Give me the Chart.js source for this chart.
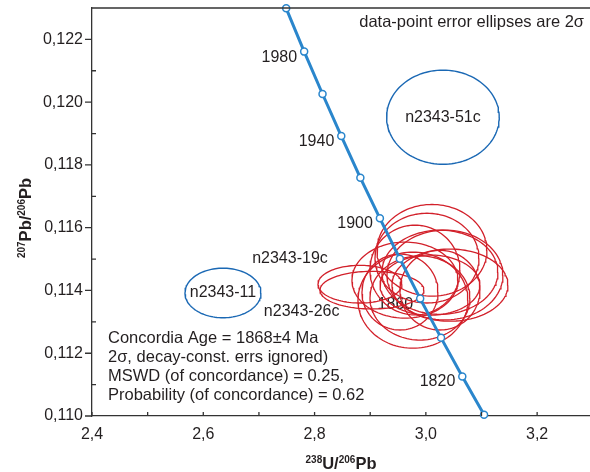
<!DOCTYPE html>
<html>
<head>
<meta charset="utf-8">
<script src="https://cdn.jsdelivr.net/npm/chart.js@4.4.0/dist/chart.umd.min.js"></script>
<style>
  html, body { margin: 0; padding: 0; background: #fff; }
  #wrap { width: 590px; height: 472px; }
</style>
</head>
<body>
<div id="wrap"><canvas id="chart"></canvas></div>
<script>
// Concordia curve: age marks (Ma) with 238U/206Pb and 207Pb/206Pb
const concordiaAges = [2000, 1980, 1960, 1940, 1920, 1900, 1880, 1860, 1840, 1820, 1800];
const concordiaX = [2.7490, 2.7813, 2.8143, 2.8480, 2.8823, 2.9174, 2.9533, 2.9898, 3.0273, 3.0655, 3.1046];
const concordiaY = [0.12299, 0.12161, 0.12026, 0.11892, 0.11759, 0.11630, 0.11501, 0.11374, 0.11249, 0.11126, 0.11004];
const labelledAges = [1980, 1940, 1900, 1860, 1820];

// Spots left out of the age (centre, 2 sigma semi-axes)
const outNames = ['n2343-51c', 'n2343-11'];
const outX = [3.0307, 2.6354];
const outY = [0.11952, 0.11392];
const outErrX = [0.1012, 0.0683];
const outErrY = [0.00150, 0.00079];

// Spots used for the concordia age
const inX = [2.8816, 2.9031, 3.0110, 3.0020, 3.0253, 3.0433, 2.9624, 2.9768, 2.9894, 3.0343, 2.9535, 3.0253, 3.0074, 2.9804];
const inY = [0.11420, 0.11401, 0.11528, 0.11503, 0.11458, 0.11417, 0.11433, 0.11369, 0.11376, 0.11449, 0.11395, 0.11401, 0.11417, 0.11465];
const inErrX = [0.0755, 0.0934, 0.0988, 0.0934, 0.1042, 0.1042, 0.0952, 0.0988, 0.0898, 0.1042, 0.0683, 0.0719, 0.0898, 0.0809];
const inErrY = [0.00060, 0.00060, 0.00146, 0.00143, 0.00134, 0.00115, 0.00121, 0.00153, 0.00134, 0.00143, 0.00121, 0.00127, 0.00096, 0.00143];

// Axis ticks
const xTicks = [2.4, 2.6, 2.8, 3.0, 3.2];
const xMinor = [2.5, 2.7, 2.9, 3.1, 3.3];
const yTicks = [0.110, 0.112, 0.114, 0.116, 0.118, 0.120, 0.122];
const yMinor = [0.111, 0.113, 0.115, 0.117, 0.119, 0.121, 0.123];

const statLines = [
    'Concordia Age = 1868\u00b14 Ma',
    '2\u03c3, decay-const. errs ignored)',
    'MSWD (of concordance) = 0.25,',
    'Probability (of concordance) = 0.62'
];

const TEXT = '#231f20';
const FONT = '"Liberation Sans", Arial, sans-serif';

// outline of one error ellipse as scatter points
function ellipsePoints(cx, cy, a, b) {
    const pts = [];
    for (let i = 0; i <= 120; i++) {
        const t = i / 120 * Math.PI * 2;
        pts.push({ x: cx + a * Math.cos(t), y: cy + b * Math.sin(t) });
    }
    return pts;
}

const datasets = [];

datasets.push({
    label: 'concordia',
    data: concordiaX.map((x, i) => ({ x, y: concordiaY[i] })),
    showLine: true,
    borderColor: '#2a86cc',
    borderWidth: 3,
    pointRadius: 3.5,
    pointBackgroundColor: '#ffffff',
    pointBorderColor: '#2a86cc',
    pointBorderWidth: 1.5,
    clip: false
});

outX.forEach((cx, i) => {
    datasets.push({
        label: outNames[i],
        data: ellipsePoints(cx, outY[i], outErrX[i], outErrY[i]),
        showLine: true,
        borderColor: '#1a68b4',
        borderWidth: 1.4,
        pointRadius: 0
    });
});

inX.forEach((cx, i) => {
    datasets.push({
        label: 'spot ' + (i + 1),
        data: ellipsePoints(cx, inY[i], inErrX[i], inErrY[i]),
        showLine: true,
        borderColor: '#d2202a',
        borderWidth: 1.3,
        pointRadius: 0
    });
});

// tick marks, top frame line and the two axis titles
const framePlugin = {
    id: 'frame',
    afterDraw(chart) {
        const ctx = chart.ctx;
        const xs = chart.scales.x, ys = chart.scales.y;
        const area = chart.chartArea;
        ctx.save();
        ctx.strokeStyle = '#333';
        ctx.lineWidth = 1.3;
        ctx.beginPath();
        ctx.moveTo(area.left, area.top);
        ctx.lineTo(area.right, area.top);
        yTicks.forEach(v => {
            const py = ys.getPixelForValue(v);
            ctx.moveTo(area.left - 7, py);
            ctx.lineTo(area.left, py);
        });
        yMinor.forEach(v => {
            const py = ys.getPixelForValue(v);
            ctx.moveTo(area.left, py);
            ctx.lineTo(area.left + 4, py);
        });
        xTicks.concat(xMinor).forEach(v => {
            const px = xs.getPixelForValue(v);
            if (px > area.right) return;
            ctx.moveTo(px, area.bottom);
            ctx.lineTo(px, area.bottom - 4);
        });
        ctx.stroke();
        ctx.restore();

        drawTitle(ctx, [['238', true], ['U/', false], ['206', true], ['Pb', false]], 341, 469, 0);
        drawTitle(ctx, [['207', true], ['Pb/', false], ['206', true], ['Pb', false]], 31, 218, -Math.PI / 2);
    }
};

function drawTitle(ctx, parts, x, y, angle) {
    ctx.save();
    ctx.translate(x, y);
    ctx.rotate(angle);
    ctx.fillStyle = TEXT;
    ctx.textAlign = 'left';
    ctx.textBaseline = 'alphabetic';
    const fonts = parts.map(p => p[1] ? 'bold 10px ' + FONT : 'bold 16.5px ' + FONT);
    const widths = parts.map((p, i) => { ctx.font = fonts[i]; return ctx.measureText(p[0]).width; });
    let cx = -widths.reduce((a, b) => a + b, 0) / 2;
    parts.forEach((p, i) => {
        ctx.font = fonts[i];
        ctx.fillText(p[0], cx, p[1] ? -6 : 0);
        cx += widths[i];
    });
    ctx.restore();
}

// text placed inside the plot
const labelPlugin = {
    id: 'labels',
    beforeDatasetsDraw(chart) {
        const ctx = chart.ctx;
        const xs = chart.scales.x, ys = chart.scales.y;
        ctx.save();
        ctx.fillStyle = TEXT;
        ctx.font = '16px ' + FONT;
        ctx.textBaseline = 'middle';

        ctx.textAlign = 'right';
        ctx.font = '16.5px ' + FONT;
        ctx.fillText('data-point error ellipses are 2\u03c3', 584, 22);

        ctx.font = '16px ' + FONT;
        labelledAges.forEach(age => {
            const i = concordiaAges.indexOf(age);
            const px = xs.getPixelForValue(concordiaX[i]);
            const py = ys.getPixelForValue(concordiaY[i]);
            ctx.fillText(String(age), px - 7, py + 5.5);
        });

        ctx.textAlign = 'center';
        outNames.forEach((name, i) => {
            ctx.fillText(name, xs.getPixelForValue(outX[i]), ys.getPixelForValue(outY[i]));
        });
        ctx.fillText('n2343-19c', xs.getPixelForValue(2.7558), ys.getPixelForValue(0.11503));
        ctx.fillText('n2343-26c', xs.getPixelForValue(2.7768), ys.getPixelForValue(0.11332));

        ctx.textAlign = 'left';
        ctx.font = '16.5px ' + FONT;
        statLines.forEach((line, k) => {
            ctx.fillText(line, 108, 338 + k * 19.3);
        });
        ctx.restore();
    }
};

new Chart(document.getElementById('chart'), {
    type: 'scatter',
    data: { datasets },
    options: {
        responsive: true,
        maintainAspectRatio: false,
        animation: false,
        events: [],
        layout: { padding: { top: 8, right: 0, left: 0, bottom: 0 }, autoPadding: false },
        plugins: { legend: { display: false }, tooltip: { enabled: false } },
        scales: {
            x: {
                type: 'linear',
                min: 2.4,
                max: 3.295,
                afterBuildTicks: s => { s.ticks = xTicks.map(v => ({ value: v })); },
                afterFit: s => { s.height = 56; s.paddingLeft = 0; s.paddingRight = 0; },
                grid: { display: false, drawTicks: false },
                border: { display: true, color: '#333', width: 1.3 },
                ticks: {
                    padding: 9,
                    color: TEXT,
                    font: { family: FONT, size: 16 },
                    maxRotation: 0,
                    callback: v => v.toFixed(1).replace('.', ',')
                }
            },
            y: {
                type: 'linear',
                min: 0.110,
                max: 0.123,
                afterBuildTicks: s => { s.ticks = yTicks.map(v => ({ value: v })); },
                afterFit: s => { s.width = 92; s.paddingTop = 0; s.paddingBottom = 0; },
                grid: { display: false, drawTicks: false },
                border: { display: true, color: '#333', width: 1.3 },
                ticks: {
                    padding: 9,
                    color: TEXT,
                    font: { family: FONT, size: 16 },
                    callback: v => v.toFixed(3).replace('.', ',')
                }
            }
        }
    },
    plugins: [framePlugin, labelPlugin]
});
</script>
</body>
</html>
